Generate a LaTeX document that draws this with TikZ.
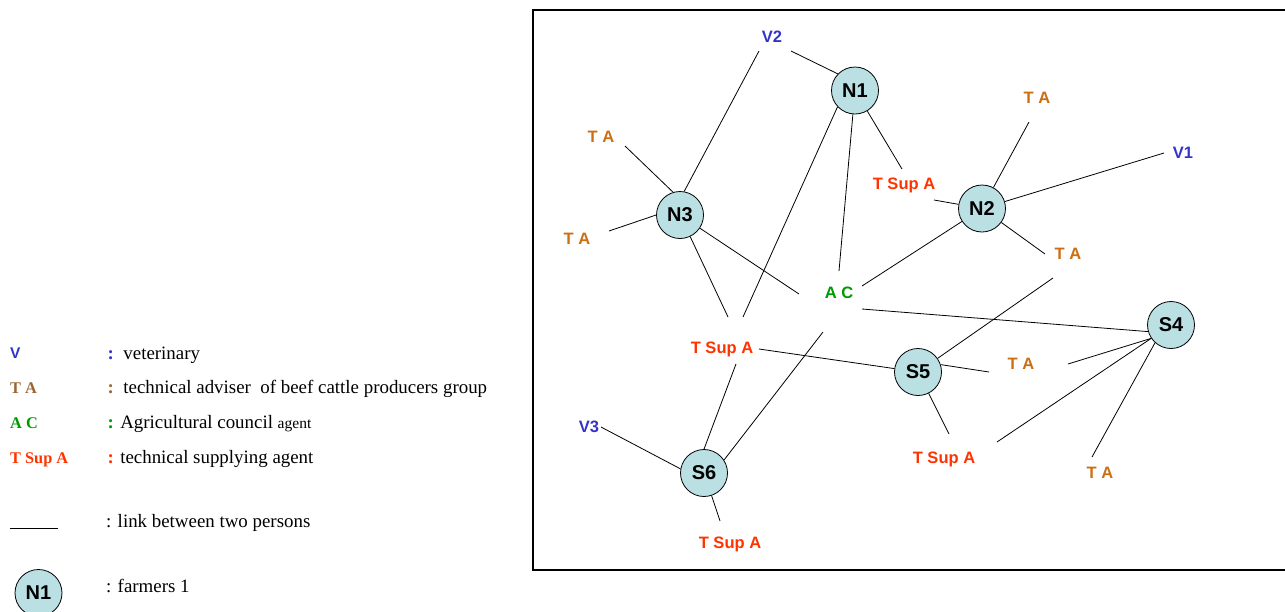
\documentclass[tikz,border=0pt]{standalone}
\usepackage{fontspec}
\setmainfont{Liberation Serif}
\newfontfamily\arialfont{Liberation Sans}
\definecolor{vetblue}{RGB}{51,51,204}
\definecolor{advorange}{RGB}{204,110,17}
\definecolor{keybrown}{RGB}{153,102,51}
\definecolor{agcgreen}{RGB}{0,153,0}
\definecolor{supred}{RGB}{255,51,0}
\definecolor{farmfill}{RGB}{187,224,227}

\begin{document}
\begin{tikzpicture}[
  x=1pt, y=-1pt,
  farmer/.style={circle, draw, fill=farmfill, minimum size=47pt, inner sep=0pt, line width=0.8pt,
    font=\arialfont\bfseries\fontsize{20}{20}\selectfont},
  lbl/.style={inner sep=0pt, text height=11.8pt, text depth=0pt,
    font=\arialfont\bfseries\fontsize{16.5}{16.5}\selectfont},
  vet/.style={lbl, text=vetblue},
  adv/.style={lbl, text=advorange},
  agc/.style={lbl, text=agcgreen},
  sup/.style={lbl, text=supred},
  keylbl/.style={anchor=base west, inner sep=0pt, font=\bfseries\fontsize{16.3}{16.3}\selectfont},
  keytxt/.style={anchor=base west, inner sep=0pt, font=\fontsize{18.9}{18.9}\selectfont},
  edgeline/.style={line width=0.8pt}
]
  \useasboundingbox (0,0) rectangle (1285,611);

  % Legenda
  \begin{scope}
    \node[keylbl, font=\arialfont\bfseries\fontsize{15.5}{15.5}\selectfont, text=vetblue] (kv) at (10,358.7) {V};
    \node[keylbl, text=keybrown] (kta) at (10,393.3) {T A};
    \node[keylbl, text=agcgreen] (kac) at (10,428.7) {A C};
    \node[keylbl, text=supred] (ksa) at (10,463.3) {T Sup A};

    \node[keytxt] (kvt) at (107.5,359.3) {\textcolor{vetblue}{\textbf{:}}\ \ veterinary};
    \node[keytxt] (ktat) at (107.5,393.3) {\textcolor{keybrown}{\textbf{:}}\ \ technical adviser\ \ of beef cattle producers group};
    \node[keytxt] (kact) at (107.5,428.7) {\textcolor{agcgreen}{\textbf{:}} Agricultural council {\fontsize{15.5}{15.5}\selectfont agent}};
    \node[keytxt] (ksat) at (107.5,463.3) {\textcolor{supred}{\textbf{:}} technical supplying agent};

    \coordinate (kla) at (10,528.5);
    \coordinate (klb) at (58,528.5);
    \draw[edgeline] (kla) -- (klb);
    \node[keytxt] (klt) at (106,527.3) {: link between two persons};

    \node[farmer] (kn1) at (38.5,593) {N1};
    \node[keytxt] (kn1t) at (106,592.3) {: farmers 1};
  \end{scope}

  % Ramecek site
  \draw[line width=2pt] (1295,10) -- (533,10) -- (533,570) -- (1295,570);

  % Farmari
  \node[farmer] (n1) at (855,90.5) {N1};
  \node[farmer] (n2) at (982,208.5) {N2};
  \node[farmer] (n3) at (680,215) {N3};
  \node[farmer] (s4) at (1171,325) {S4};
  \node[farmer] (s5) at (918,372) {S5};
  \node[farmer] (s6) at (704,473) {S6};

  % Osoby kolem farmaru
  \node[vet] (v2) at (772,37) {V2};
  \node[vet] (v1) at (1183,153) {V1};
  \node[vet] (v3) at (589,427) {V3};
  \node[adv] (ta1) at (601,137) {T A};
  \node[adv] (ta2) at (577,239) {T A};
  \node[adv] (ta3) at (1037,98) {T A};
  \node[adv] (ta4) at (1068,254) {T A};
  \node[adv] (ta5) at (1021,364) {T A};
  \node[adv] (ta6) at (1100,473) {T A};
  \node[agc] (ac) at (839,293) {A C};
  \node[sup] (tsa1) at (904,184) {T Sup A};
  \node[sup] (tsa2) at (722,348) {T Sup A};
  \node[sup] (tsa3) at (730,543) {T Sup A};
  \node[sup] (tsa4) at (944,458) {T Sup A};

  % Volne konce spojnic u popisku
  \coordinate (v2a) at (759,51);
  \coordinate (v2b) at (791,51);
  \coordinate (v1e) at (1164,153);
  \coordinate (v3e) at (601,427);
  \coordinate (ta1e) at (625,146);
  \coordinate (ta2e) at (609,231);
  \coordinate (ta3e) at (1029,122);
  \coordinate (ta4a) at (1045,254);
  \coordinate (ta4b) at (1053,278);
  \coordinate (ta5a) at (989,372);
  \coordinate (ta5b) at (1068,364);
  \coordinate (ta6e) at (1092,457);
  \coordinate (aca) at (839,271);
  \coordinate (acb) at (799,294);
  \coordinate (acc) at (862,286);
  \coordinate (acd) at (862,309);
  \coordinate (ace) at (823,332);
  \coordinate (tsa1a) at (902,169);
  \coordinate (tsa1b) at (934,200);
  \coordinate (tsa2a) at (728,317);
  \coordinate (tsa2b) at (743,317);
  \coordinate (tsa2c) at (736,364);
  \coordinate (tsa2d) at (759,349);
  \coordinate (tsa3e) at (720,521);
  \coordinate (tsa4a) at (949,434);
  \coordinate (tsa4b) at (997,442);

  % Spojnice
  \draw[edgeline] (n1.136) -- (v2b);
  \draw[edgeline] (n3.80) -- (v2a);
  \draw[edgeline] (n3.107) -- (ta1e);
  \draw[edgeline] (n3.180) -- (ta2e);
  \draw[edgeline] (n1) -- (tsa1a);
  \draw[edgeline] (n2) -- (tsa1b);
  \draw[edgeline] (n1) -- (aca);
  \draw[edgeline] (n1.223) -- (tsa2b);
  \draw[edgeline] (n3) -- (tsa2a);
  \draw[edgeline] (n3) -- (acb);
  \draw[edgeline] (n2) -- (acc);
  \draw[edgeline] (s4.196) -- (acd);
  \draw[edgeline] (s6.33) -- (ace);
  \draw[edgeline] (s6.north) -- (tsa2c);
  \draw[edgeline] (s5) -- (tsa2d);
  \draw[edgeline] (s6.170) -- (v3e);
  \draw[edgeline] (s6) -- (tsa3e);
  \draw[edgeline] (n2) -- (ta3e);
  \draw[edgeline] (n2) -- (v1e);
  \draw[edgeline] (n2) -- (ta4a);
  \draw[edgeline] (s5) -- (ta4b);
  \draw[edgeline] (s5.18) -- (ta5a);
  \draw[edgeline] (s4.214) -- (ta5b);
  \draw[edgeline] (s5) -- (tsa4a);
  \draw[edgeline] (s4.214) -- (tsa4b);
  \draw[edgeline] (s4.228) -- (ta6e);

\end{tikzpicture}
\end{document}
